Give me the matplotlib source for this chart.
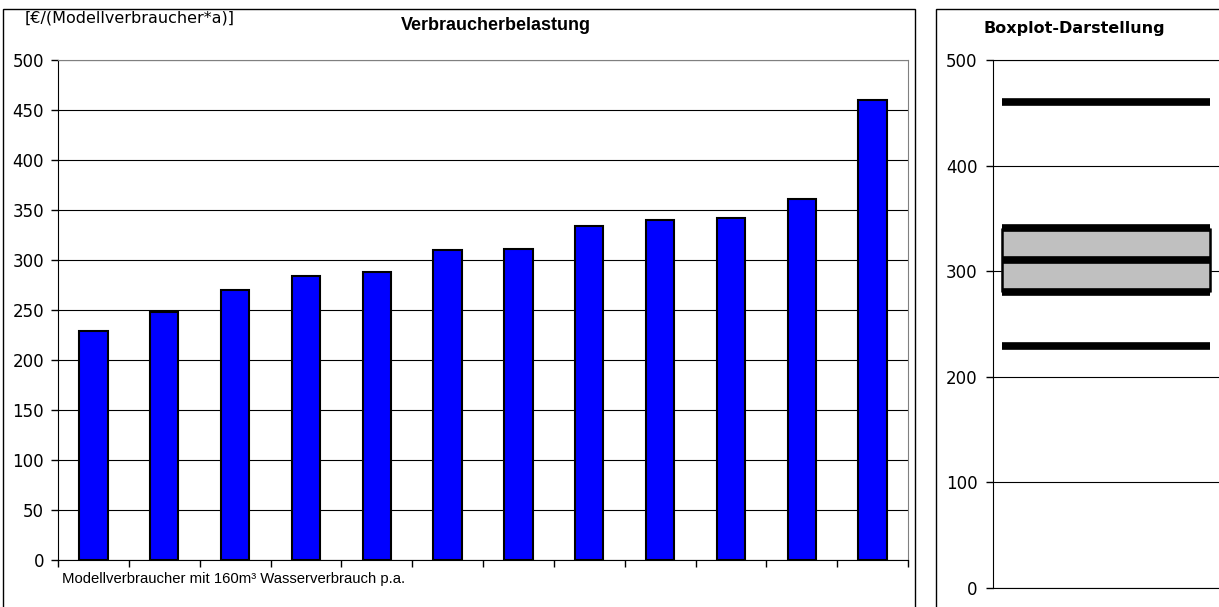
import matplotlib.pyplot as plt
import numpy as np
from matplotlib.patches import Rectangle
from matplotlib import font_manager

# Data: annual cost per model consumer, sorted
values = [229, 248, 270, 284, 288, 310, 311, 334, 340, 342, 361, 460]
positions = np.arange(1, len(values) + 1)
y_ticks_left = [0, 50, 100, 150, 200, 250, 300, 350, 400, 450, 500]
y_ticks_right = [0, 100, 200, 300, 400, 500]

W, H = 1219, 607
fig = plt.figure(figsize=(W / 100, H / 100), dpi=100)
plt.rcParams['font.family'] = ['Liberation Sans', 'DejaVu Sans']

# narrow font for the main title if it is there
installed = {f.name for f in font_manager.fontManager.ttflist}
if 'Liberation Sans Narrow' in installed:
    title_font, title_size = 'Liberation Sans Narrow', 15.5
else:
    title_font, title_size = 'Liberation Sans', 13


def fx(px):
    return px / W


def fy(py):
    return 1 - py / H


# outer chart frames
fig.patches.append(Rectangle((fx(3), fy(630)), fx(912), (630 - 9) / H,
                             transform=fig.transFigure, fill=False,
                             edgecolor='black', lw=1, clip_on=False))
fig.patches.append(Rectangle((fx(936), fy(630)), fx(320), (630 - 9) / H,
                             transform=fig.transFigure, fill=False,
                             edgecolor='black', lw=1, clip_on=False))

# left chart: bars
ax = fig.add_axes([fx(58), fy(560), fx(850), 500 / H])
ax.bar(positions, values, width=0.4, color='#0000FF', edgecolor='black',
       linewidth=1.5, zorder=3)
ax.set_xlim(0.5, len(values) + 0.5)
ax.set_ylim(0, 500)
ax.set_yticks(y_ticks_left)
ax.set_yticklabels([str(v) for v in y_ticks_left], fontsize=12,
                   family='DejaVu Sans')
ax.set_xticks(np.arange(0.5, len(values) + 1, 1))
ax.set_xticklabels([])
ax.tick_params(axis='both', direction='out', length=5, width=1, pad=5)
ax.yaxis.grid(True, color='black', lw=0.8, zorder=0)
for s in ['top', 'right']:
    ax.spines[s].set_color('#808080')

fig.text(fx(25), fy(18), '[€/(Modellverbraucher*a)]', fontsize=11.5,
         family='DejaVu Sans', ha='left', va='center')
fig.text(fx(496), fy(25), 'Verbraucherbelastung', fontsize=title_size,
         family=title_font, fontweight='bold', ha='center', va='center')
fig.text(fx(62), fy(579), 'Modellverbraucher mit 160m³ Wasserverbrauch p.a.',
         fontsize=10.7, ha='left', va='center')

# right chart: boxplot summary
q1, med, q3 = np.percentile(values, [25, 50, 75])
vmin, vmax = min(values), max(values)

ax2 = fig.add_axes([fx(993), fy(588), fx(260), 528 / H])
ax2.set_xlim(0, 1)
ax2.set_ylim(0, 500)
x0, x1 = (1002 - 993) / 260, (1210 - 993) / 260
ax2.fill_between([x0, x1], q1, q3, color='#C0C0C0', zorder=2)
ax2.hlines([q1, med, q3], x0, x1, color='black', lw=5.5, zorder=3)
ax2.vlines([x0, x1], q1, q3, color='black', lw=1.8, zorder=3)
ax2.hlines([vmin, vmax], x0, x1, color='black', lw=5.5, zorder=3)
ax2.set_yticks(y_ticks_right)
ax2.set_yticklabels([str(v) for v in y_ticks_right], fontsize=12,
                    family='DejaVu Sans')
ax2.set_xticks([])
ax2.tick_params(axis='y', direction='out', length=5, width=1, pad=6)
ax2.yaxis.grid(True, color='black', lw=0.8, zorder=0)
ax2.spines['right'].set_visible(False)
fig.text(fx(1074), fy(28), 'Boxplot-Darstellung', fontsize=11.5,
         family='DejaVu Sans', fontweight='bold', ha='center', va='center')

fig.savefig('out.png', dpi=100)
